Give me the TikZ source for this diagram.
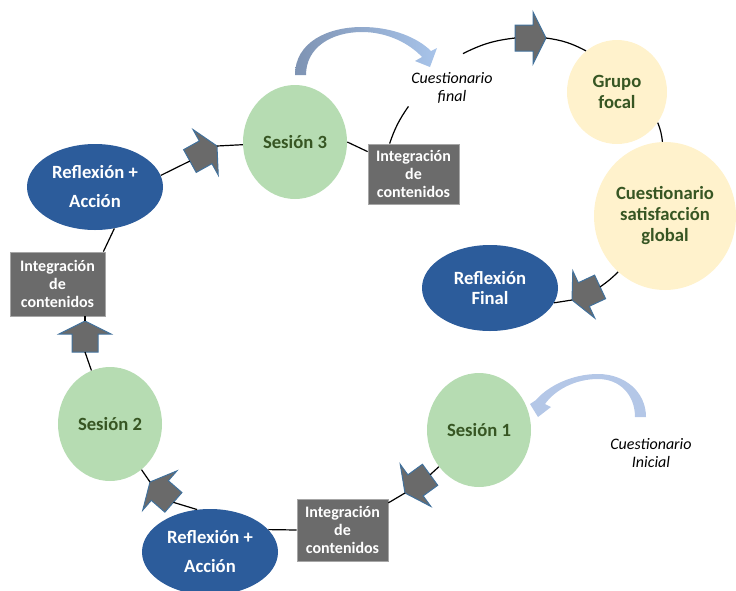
\documentclass[tikz,border=0pt]{standalone}
\usepackage{fontspec}
\setmainfont{Carlito}
\usetikzlibrary{shapes.geometric}
\definecolor{sgreen}{HTML}{B6DCB2}
\definecolor{dgreen}{HTML}{375623}
\definecolor{rblue}{HTML}{2C5C9B}
\definecolor{yfill}{HTML}{FFF2CC}
\definecolor{bgray}{HTML}{6B6B6B}
\definecolor{bborder}{HTML}{A6A6A6}
\definecolor{agray}{HTML}{6A6A6A}
\definecolor{ablue}{HTML}{41719C}
\definecolor{cdark}{HTML}{7E93B3}
\definecolor{clight}{HTML}{A8C4EA}
\definecolor{cpale}{HTML}{B4C7E7}
\newcommand\myblockarrow[4]{%
  \begin{scope}[shift={(#2,#3)}, rotate=#4]
    \filldraw[barrow] (0,0) -- (-13,26) -- (-13,13) -- (-31,13) -- (-31,-13) -- (-13,-13) -- (-13,-26) -- cycle;
    \coordinate (#1t) at (0,0);
    \coordinate (#1b) at (-31,0);
  \end{scope}}
\begin{document}
\begin{tikzpicture}[x=0.75pt,y=-0.75pt,
  sess/.style={ellipse, fill=sgreen, minimum width=78pt, minimum height=85.5pt, inner sep=0pt,
    text=dgreen, font=\bfseries\fontsize{14}{16}\selectfont, align=center},
  refl/.style={ellipse, fill=rblue, minimum width=102pt, minimum height=64.5pt, inner sep=0pt,
    text=white, font=\bfseries\fontsize{14}{15}\selectfont, align=center},
  reflwide/.style={refl, font=\bfseries\fontsize{14}{21.75}\selectfont},
  yel/.style={ellipse, fill=yfill, inner sep=0pt, text=dgreen,
    font=\bfseries\fontsize{14}{15.75}\selectfont, align=center},
  ibox/.style={rectangle, fill=bgray, draw=bborder, line width=0.6pt, text=white,
    font=\bfseries\fontsize{12}{13.5}\selectfont, align=center,
    minimum width=68.25pt, minimum height=45pt, inner sep=0pt},
  note/.style={font=\itshape\fontsize{12}{13.5}\selectfont, align=center, inner sep=2pt},
  conn/.style={draw=black, line width=0.9pt},
  barrow/.style={fill=agray, draw=ablue, line width=0.75pt, line join=miter},
]
\useasboundingbox (0,0) rectangle (736,590);

% nodes
\node[sess] (s3) at (295,142) {Sesión 3};
\node[sess] (s1) at (479,430) {Sesión 1};
\node[sess] (s2) at (110,424) {Sesión 2};
\node[reflwide] (rat) at (95,187) {Reflexión +\\Acción};
\node[reflwide] (rab) at (210,552) {Reflexión +\\Acción};
\node[refl] (rf) at (490,288) {Reflexión\\Final};
\node[yel, minimum width=75pt, minimum height=78pt] (gf) at (617,92) {Grupo\\focal};
\node[yel, minimum width=106.5pt, minimum height=111pt] (csg) at (665,216) {Cuestionario\\satisfacción\\global};
\node[ibox] (bxt) at (413.5,174) {Integración\\de\\contenidos};
\node[ibox, minimum width=71.25pt, minimum height=48pt] (bxl) at (57.5,284) {Integración\\de\\contenidos};
\node[ibox, minimum height=46.5pt] (bxb) at (342.5,530) {Integración\\de\\contenidos};
\node[note] (cf) at (452,88) {Cuestionario\\final};
\node[note] (ci) at (651,453) {Cuestionario\\Inicial};

% curved arrows
\shade[left color=cdark, right color=clight]
  (295,75) .. controls (295,42) and (328,27) .. (362,27)
  .. controls (393,27) and (418,38) .. (431,51)
  -- (437,48) -- (430,67) -- (415,61) -- (422,57)
  .. controls (410,44) and (388,32) .. (362,32)
  .. controls (332,32) and (306,47) .. (306,75) -- cycle;
\fill[cpale]
  (646,417) .. controls (646,392) and (625,374) .. (598,374)
  .. controls (572,374) and (548,386) .. (536,400)
  -- (530,404) -- (538,417) -- (551,407) -- (545,404)
  .. controls (555,390) and (575,379) .. (598,379)
  .. controls (620,379) and (635,395) .. (635,417) -- cycle;

% block arrows
\myblockarrow{aa}{405}{493}{216}
\myblockarrow{ab}{150}{482}{139}
\myblockarrow{ac}{85}{321}{90}
\myblockarrow{ad}{217}{146}{29}
\myblockarrow{ae}{546}{38}{0}
\myblockarrow{af}{572}{300}{205}

% connectors
\draw[conn] (s1) -- (aab);
\draw[conn] (aat) -- (bxb);
\draw[conn] (bxb.west) -- (rab.21);
\draw[conn] (rab.107) -- (abb);
\draw[conn] (abt) -- (s2);
\draw[conn] (s2) -- (acb);
\draw[conn] (act) -- (act |- bxl.south);
\draw[conn] ([xshift=-1.5pt]bxl.north east) -- (rat.-65);
\draw[conn] (rat.10) -- (adb);
\draw[conn] (adt) -- (s3);
\draw[conn] (s3.east) -- ([yshift=-6pt]bxt.north west);
\draw[conn] ([xshift=16.5pt]bxt.north west) to[bend left=8] (cf.south west);
\draw[conn] ([shift={(8.25pt,12pt)}]cf.north) to[bend left=10] (aeb);
\draw[conn] (aet) to[bend left=10] (gf.127);
\draw[conn] (gf.-37) to[bend left=8] (csg.92);
\draw[conn] (csg.-130) to[bend left=5] (afb);
\draw[conn] (aft) -- (rf.-13);
\end{tikzpicture}
\end{document}
